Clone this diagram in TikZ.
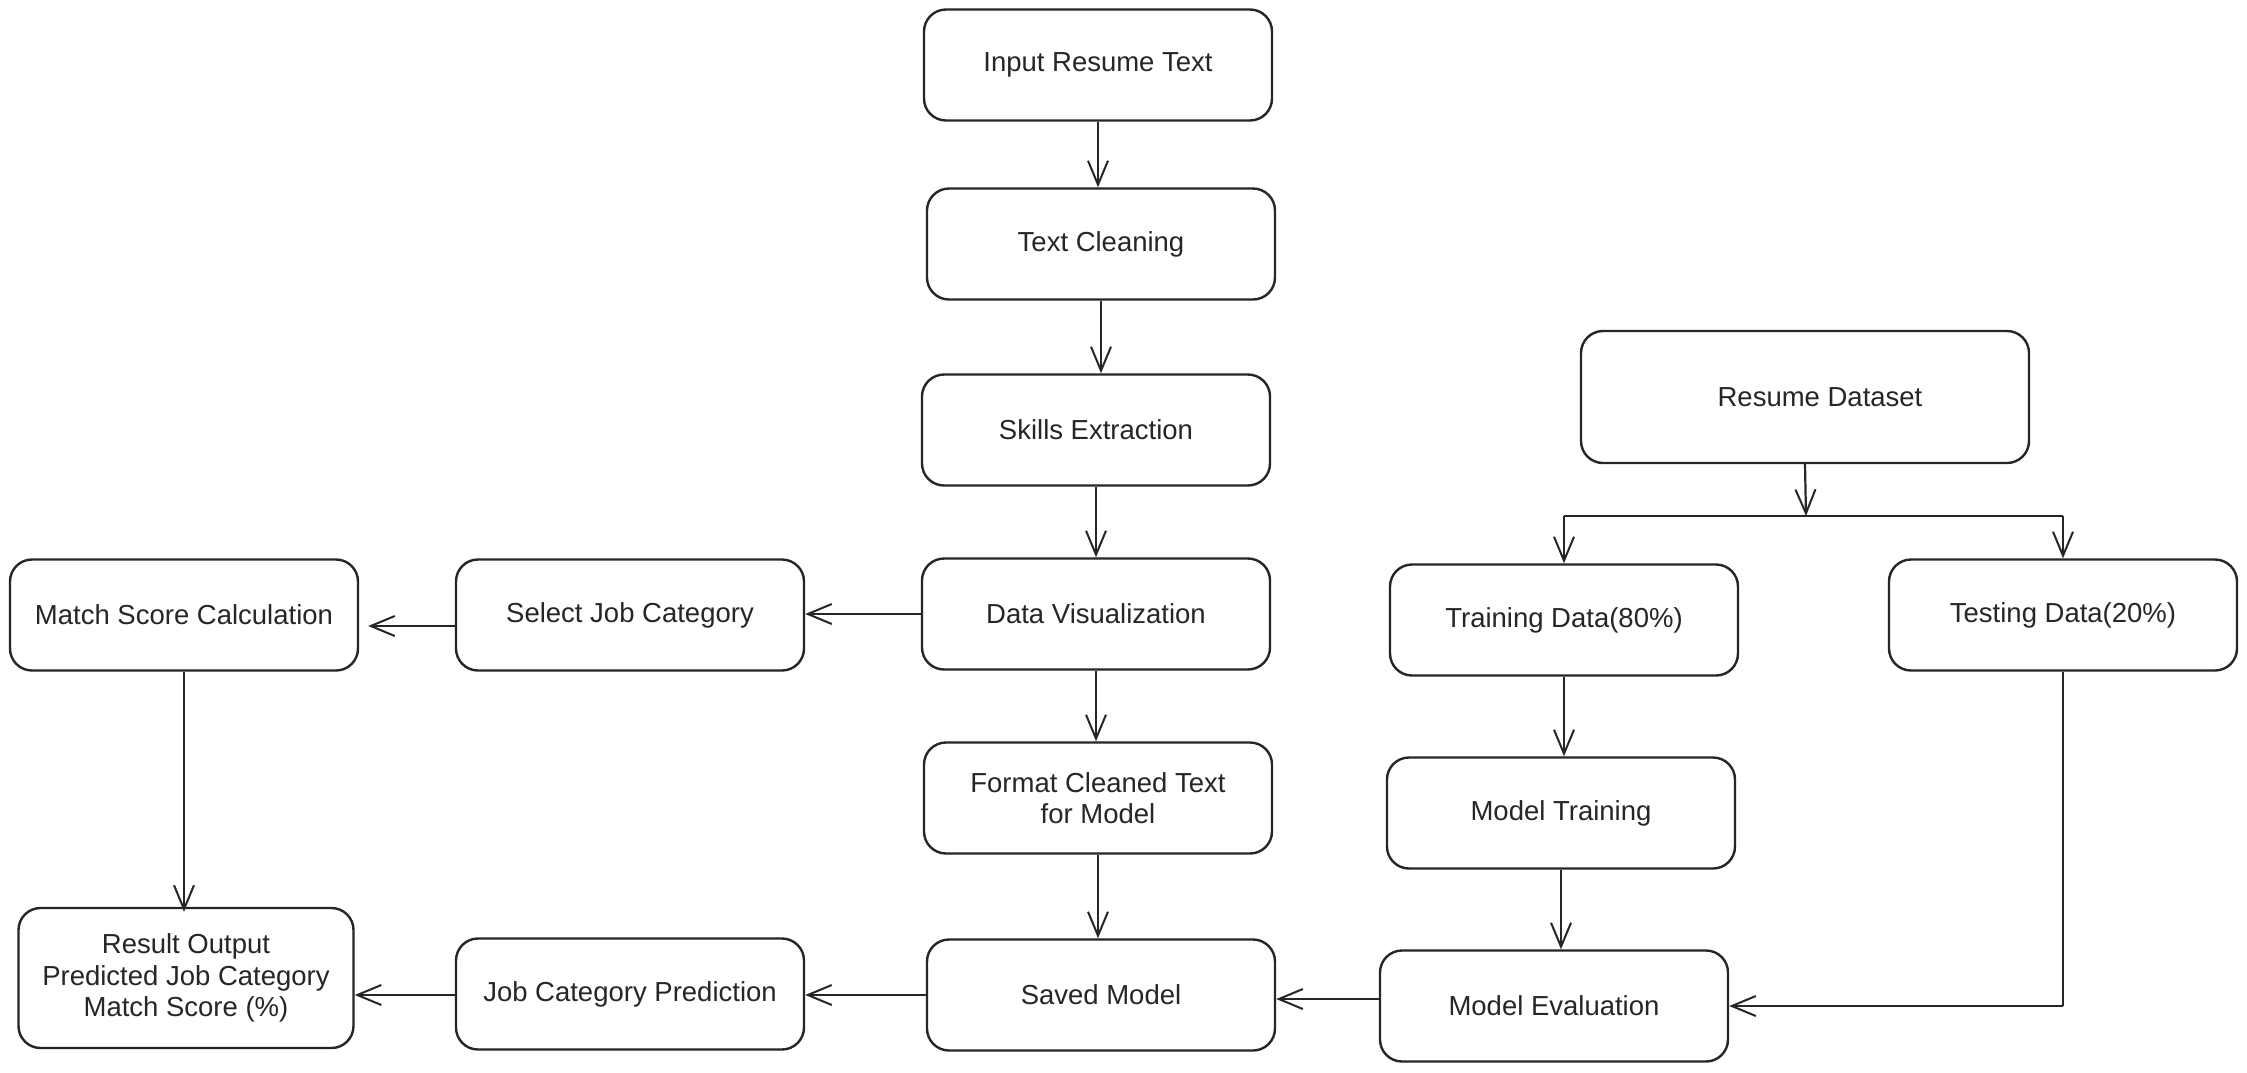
\documentclass[tikz,border=0pt]{standalone}
\usepackage{fontspec}
\setmainfont{Liberation Sans}
\usetikzlibrary{arrows.meta}
\tikzset{
  box/.style={draw=black!85, line width=2.4pt, rounded corners=22pt, minimum width=348pt, minimum height=111pt, align=center, inner sep=0pt, font=\fontsize{27.5}{31.6}\selectfont, text=black!85},
  arr/.style={draw=black!85, line width=2.2pt, -{Straight Barb[length=24pt,width=20pt,line width=2pt]}},
  ln/.style={draw=black!85, line width=2.2pt}
}
\begin{document}
\begin{tikzpicture}[x=1pt,y=-1pt]
\useasboundingbox[fill=white] (0,0) rectangle (2247,1072);
% centre column
\node[box] (inp) at (1098,65) {Input Resume Text};
\node[box] (tc) at (1101,244) {Text Cleaning};
\node[box] (se) at (1096,430) {Skills Extraction};
\node[box] (dv) at (1096,614) {Data Visualization};
\node[box] (fc) at (1098,798) {Format Cleaned Text\\for Model};
\node[box] (sm) at (1101,995) {Saved Model};
% left
\node[box] (sel) at (630,615) {Select Job Category};
\node[box] (mat) at (184,615) {Match Score Calculation};
\node[box, minimum width=335pt, minimum height=140pt] (res) at (186,978) {Result Output\\Predicted Job Category\\Match Score (\%)};
\node[box] (jcp) at (630,994) {Job Category Prediction};
% right
\node[box, minimum width=448pt, minimum height=132pt] (rd) at (1805,397) {\hspace*{30pt}Resume Dataset};
\node[box] (tr) at (1564,620) {Training Data(80\%)};
\node[box] (te) at (2063,615) {Testing Data(20\%)};
\node[box] (mt) at (1561,813) {Model Training};
\node[box] (me) at (1554,1006) {Model Evaluation};
% centre arrows
\draw[arr] (inp.south) -- (inp.south |- tc.north);
\draw[arr] (tc.south) -- (tc.south |- se.north);
\draw[arr] (se.south) -- (se.south |- dv.north);
\draw[arr] (dv.south) -- (dv.south |- fc.north);
\draw[arr] (fc.south) -- (fc.south |- sm.north);
% left arrows
\draw[arr] (dv.west) -- (dv.west -| sel.east);
\draw[arr] ([yshift=-11pt]sel.west) -- ([yshift=-11pt,xshift=9pt]sel.west -| mat.east);
\draw[arr] (mat.south) -- ([yshift=-5pt]mat.south |- res.north);
\draw[arr] (sm.west) -- (sm.west -| jcp.east);
\draw[arr] ([yshift=-1pt]jcp.west) -- ([yshift=-1pt]jcp.west -| res.east);
% right arrows
\coordinate (split) at (1806,516);
\draw[arr] (rd.south) -- (split);
\draw[ln] (tr.north |- split) -- (te.north |- split);
\draw[arr] (tr.north |- split) -- (tr.north);
\draw[arr] (te.north |- split) -- (te.north);
\draw[arr] (tr.south) -- (tr.south |- mt.north);
\draw[arr] (mt.south) -- (mt.south |- me.north);
\coordinate (corner) at (te.south |- me.east);
\draw[ln] (te.south) -- (corner);
\draw[arr] (corner) -- (me.east);
\draw[arr] ([yshift=7pt]me.west) -- ([yshift=7pt]me.west -| sm.east);
\end{tikzpicture}
\end{document}
